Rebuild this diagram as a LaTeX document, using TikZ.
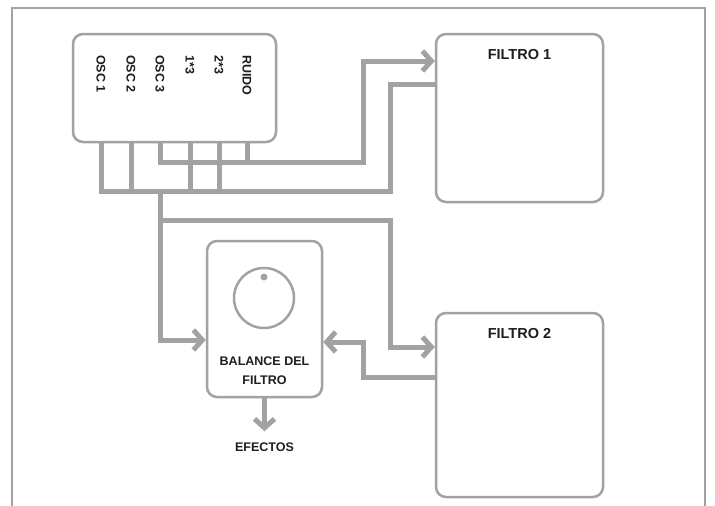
\documentclass[tikz,border=0pt]{standalone}
\usepackage{fontspec}
\setmainfont{Liberation Sans}
\usetikzlibrary{arrows.meta, positioning}
\definecolor{wiregray}{HTML}{A2A2A2}
\definecolor{inkblack}{HTML}{1E1E1E}

\begin{document}
\begin{tikzpicture}[x=1pt, y=-1pt,
  box/.style={draw=wiregray, line width=2.5pt, rounded corners=10pt, fill=white, inner sep=0pt},
  wire/.style={draw=wiregray, line width=5pt},
  tip/.style={-{Straight Barb[length=9pt, width=20pt]}},
  lbl/.style={text=inkblack, font=\bfseries\fontsize{12.5}{19}\selectfont, inner sep=0pt},
  flbl/.style={lbl, font=\bfseries\fontsize{14.5}{17}\selectfont},
  chan/.style={lbl, rotate=-90, anchor=west}]
\useasboundingbox (0,0) rectangle (715,506);
\draw[wiregray, line width=2.5pt] (12,506) -- (12,8) -- (705,8) -- (705,506);
% boxes
\node[box, minimum width=203pt, minimum height=108pt] (osc) at (174.5,88) {};
\node[box, minimum width=167pt, minimum height=168pt] (f1) at (519.5,118) {};
\node[box, minimum width=167pt, minimum height=184pt] (f2) at (519.5,405) {};
\node[box, minimum width=115pt, minimum height=156pt] (bal) at (264.5,319) {};
% channel names
\node[chan] (o1) at (101,55) {OSC 1};
\node[chan] (o2) at (131,55) {OSC 2};
\node[chan] (o3) at (160,55) {OSC 3};
\node[chan] (x13) at (190,55) {1*3};
\node[chan] (x23) at (219,55) {2*3};
\node[chan] (ru) at (247,55) {RUIDO};
% labels
\node[flbl, below=16pt of f1.north] (f1lbl) {FILTRO 1};
\node[flbl, below=16pt of f2.north] (f2lbl) {FILTRO 2};
\node[lbl, align=center] (ballbl) at ([yshift=-52pt]bal.center) {BALANCE DEL\\FILTRO};
\node[lbl, below=44pt of bal.south] (efx) {EFECTOS};
% knob
\node[circle, draw=wiregray, line width=2.5pt, minimum size=60pt] (knob) at (264,298) {};
\node[circle, fill=wiregray, minimum size=7pt, inner sep=0pt] (dot) at ([yshift=21pt]knob.center) {};
% bus rows and columns
\coordinate (busA) at (0,162);
\coordinate (busB) at (0,191);
\coordinate (busC) at (0,220);
\coordinate (colA) at (363,0);
\coordinate (colB) at (390,0);
\coordinate (f1in) at ([yshift=57pt]f1.west);
\coordinate (f1out) at ([yshift=34pt]f1.west);
\coordinate (f2in) at ([yshift=58pt]f2.west);
\coordinate (f2out) at ([yshift=28pt]f2.west);
\coordinate (balin) at ([yshift=-21pt]bal.west);
\coordinate (balret) at ([yshift=-23pt]bal.east);
% wires
\draw[wire, tip] (o3 |- osc.south) |- (colA |- busA) |- (f1in);
\draw[wire] (ru |- osc.south) -- (ru |- busA);
\draw[wire] (f1out) -| (colB |- busB) -- (o1 |- busB) -- (o1 |- osc.south);
\draw[wire] (o2 |- osc.south) -- (o2 |- busB);
\draw[wire] (x13 |- osc.south) -- (x13 |- busB);
\draw[wire] (x23 |- osc.south) -- (x23 |- busB);
\draw[wire, tip] (o3 |- busB) |- (balin);
\draw[wire, tip] (o3 |- busC) -- (colB |- busC) |- (f2in);
\draw[wire, tip] (f2out) -| (colA |- balret) -- (balret);
\draw[wire, tip] (bal.south) -- ([yshift=11pt]efx.north);
\end{tikzpicture}
\end{document}
